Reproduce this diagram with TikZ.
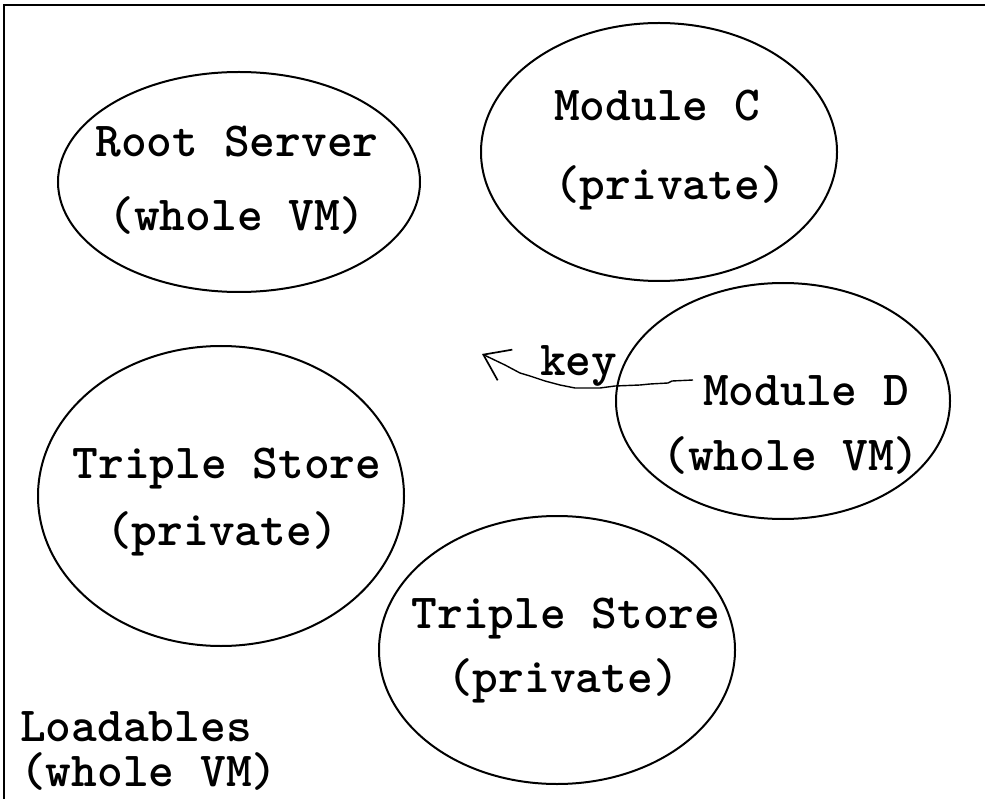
\documentclass[tikz,border=0pt]{standalone}
\usepackage{fontspec}
\usetikzlibrary{shapes.geometric,arrows.meta}
\begin{document}
\begin{tikzpicture}[x=1pt,y=-1pt,
  ell/.style={ellipse,draw,line width=2pt,inner sep=0pt},
  lbl/.style={font=\fontsize{49}{49}\selectfont\ttfamily\bfseries,inner sep=0pt,anchor=base},
  lblw/.style={lbl,anchor=base west},
  keyline/.style={line width=1.4pt,line join=round,-{Straight Barb[length=24pt,width=34pt,line width=1.7pt]}},
  frame/.style={line width=2pt}]
\useasboundingbox (0,0) rectangle (985,799);
\draw[frame] (4,799) -- (4,5) -- (985,5);
% ellipses
\node[ell,minimum width=362pt,minimum height=220pt] (root) at (239,182) {};
\node[ell,minimum width=356pt,minimum height=258pt] (modC) at (659,152) {};
\node[ell,minimum width=334pt,minimum height=236pt] (modD) at (783,401) {};
\node[ell,minimum width=366pt,minimum height=300pt] (tsA) at (221,496) {};
\node[ell,minimum width=356pt,minimum height=268pt] (tsB) at (557,650) {};
% texts
\node[lbl] (root1) at (237,157) {Root Server};
\node[lbl] (root2) at (237,231) {(whole VM)};
\node[lblw] (modC1) at (554,121) {Module C};
\node[lblw] (modC2) at (554,200) {(private)};
\node[lbl] (modD1) at (806,405) {Module D};
\node[lbl] (modD2) at (791,470) {(whole VM)};
\node[lbl] (tsA1) at (227,478) {Triple Store};
\node[lbl] (tsA2) at (222,545) {(private)};
\node[lbl] (tsB1) at (566,628) {Triple Store};
\node[lbl] (tsB2) at (563,692) {(private)};
\node[lblw] (load1) at (20,741) {Loadables};
\node[lblw] (load2) at (20,786) {(whole VM)};
\node[lblw] (keylbl) at (540,375) {key};
% key connector
\coordinate (keystart) at (693,380);
\coordinate (keytip) at (482,354);
\draw[keyline] (keystart) -- (672,381) -- (668,383) -- (650,384) -- (640,385) -- (615,386)
  -- (600,388) -- (575,388) -- (560,385) -- (545,381) -- (530,376) -- (520,373) -- (505,365) -- (keytip);
\end{tikzpicture}
\end{document}
